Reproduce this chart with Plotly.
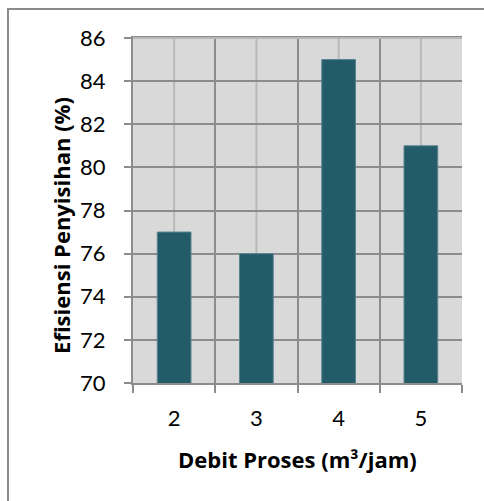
import plotly.graph_objects as go

# Data
debit = ["2", "3", "4", "5"]
efisiensi = [77, 76, 85, 81]
y_ticks = [70, 72, 74, 76, 78, 80, 82, 84, 86]
x_title = "<b>Debit Proses (m³/jam)</b>"
y_title = "<b>Efisiensi Penyisihan (%)</b>"

TICK_FONT = "Lato"
TITLE_FONT = "Open Sans"
BAR = "#235B69"
GRID = "#8C8C8C"
LIGHT = "#B8B8B8"

fig = go.Figure()
fig.add_trace(go.Bar(
    x=debit, y=efisiensi,
    marker=dict(color=BAR, line=dict(color="#5A8491", width=1)),
    width=0.41,
))

shapes = []
# light centre lines behind each category
for i in range(len(debit)):
    shapes.append(dict(type="line", xref="x", yref="paper", x0=i, x1=i, y0=0, y1=1,
                       line=dict(color=LIGHT, width=2), layer="below"))
# lighter top edge of the plotting area
shapes.append(dict(type="line", xref="paper", yref="paper", x0=0, x1=1, y0=1, y1=1,
                   line=dict(color=LIGHT, width=2), layer="above"))
# chart frame
shapes.append(dict(type="rect", xref="paper", yref="paper", x0=-0.38, x1=2, y0=-1, y1=1.084,
                   line=dict(color="#8A8A8A", width=2), fillcolor="rgba(0,0,0,0)", layer="above"))

annotations = [
    dict(text=x_title, xref="paper", yref="paper", x=0.4985, y=-0.22,
         xanchor="center", yanchor="middle", showarrow=False,
         font=dict(family=TITLE_FONT, size=22, color="black")),
    dict(text=y_title, xref="paper", yref="paper", x=-0.219, y=0.458,
         xanchor="center", yanchor="middle", showarrow=False, textangle=-90,
         font=dict(family=TITLE_FONT, size=22, color="black")),
]

fig.update_layout(
    width=484, height=501,
    margin=dict(l=133, r=22, t=38, b=118),
    paper_bgcolor="white",
    plot_bgcolor="#D9D9D9",
    showlegend=False,
    font=dict(family=TICK_FONT, size=22, color="black"),
    shapes=shapes,
    annotations=annotations,
    xaxis=dict(
        type="category",
        tickson="boundaries",
        showgrid=True, gridcolor=GRID, gridwidth=2,
        showline=True, linecolor=GRID, linewidth=2, mirror=True,
        ticks="outside", ticklen=8, tickcolor=GRID, tickwidth=2,
        ticklabelstandoff=15,
        tickfont=dict(family=TICK_FONT, size=22),
    ),
    yaxis=dict(
        range=[70, 86],
        tickvals=y_ticks,
        showgrid=True, gridcolor=GRID, gridwidth=2,
        showline=True, linecolor=GRID, linewidth=2,
        ticks="outside", ticklen=7, tickcolor=GRID, tickwidth=2,
        ticklabelstandoff=14,
        tickfont=dict(family=TICK_FONT, size=22),
        zeroline=False,
    ),
)

fig.write_html("out.html")
